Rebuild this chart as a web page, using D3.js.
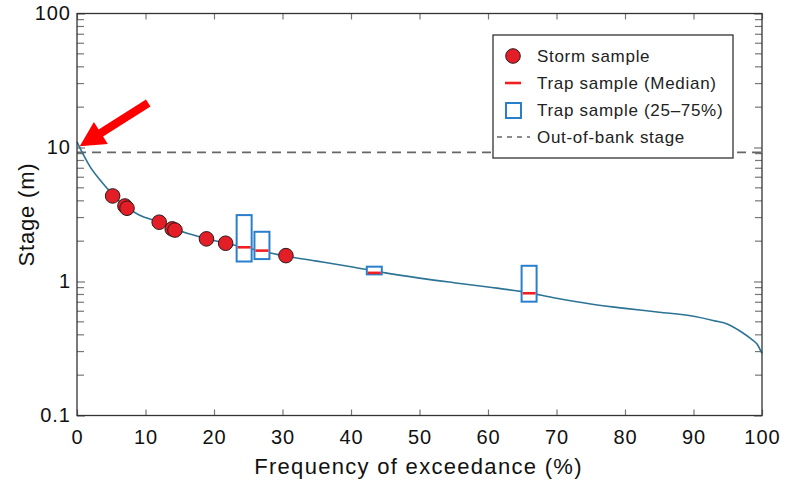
<!DOCTYPE html>
<html>
<head>
<meta charset="utf-8">
<script src="https://cdn.jsdelivr.net/npm/d3@7"></script>
<style>
  body { margin: 0; background: #fff; }
  text { font-family: "Liberation Sans", Arial, Helvetica, sans-serif; }
</style>
</head>
<body>
<script>
// flow duration curve (frequency of exceedance %, stage m)
var curvePct   = [0, 0.7, 1.9, 3.4, 4.8, 6, 7.2, 9, 12, 14, 17, 20, 24, 27, 31, 35, 40, 45, 50, 55, 60, 65, 70, 75, 80, 85, 90, 93, 95, 97, 98.5, 99.3, 100];
var curveStage = [11.0, 9.3, 7.2, 5.7, 4.7, 4.05, 3.6, 3.15, 2.78, 2.5, 2.22, 2.02, 1.82, 1.68, 1.53, 1.42, 1.29, 1.16, 1.06, 0.98, 0.91, 0.84, 0.75, 0.68, 0.63, 0.59, 0.55, 0.51, 0.48, 0.42, 0.37, 0.34, 0.29];

// storm samples
var stormPct   = [5.2, 7.0, 7.3, 12.0, 13.9, 14.3, 18.9, 21.7, 30.5];
var stormStage = [4.35, 3.66, 3.52, 2.77, 2.47, 2.42, 2.08, 1.93, 1.56];

// trap samples
var trapPct    = [24.4, 27.0, 43.4, 66.0];
var trapQ25    = [1.41, 1.47, 1.13, 0.707];
var trapMedian = [1.80, 1.70, 1.16, 0.817];
var trapQ75    = [3.13, 2.35, 1.29, 1.31];

var outOfBank = 9.2;

var xTicks = [0, 10, 20, 30, 40, 50, 60, 70, 80, 90, 100];
var yTicks = [0.1, 1, 10, 100];
var legendLabels = ["Storm sample", "Trap sample (Median)", "Trap sample (25\u201375%)", "Out-of-bank stage"];

var width = 792, height = 480;
var margin = {left: 77, top: 13.5, right: 30, bottom: 64.5};
var w = width - margin.left - margin.right;
var h = height - margin.top - margin.bottom;

var svg = d3.select("body").append("svg")
  .attr("width", width).attr("height", height);

var g = svg.append("g").attr("transform", "translate(" + margin.left + "," + margin.top + ")");

var x = d3.scaleLinear().domain([0, 100]).range([0, w]);
var y = d3.scaleLog().domain([0.1, 100]).range([h, 0]);

var tickColor = "#777";

// minor y ticks both sides
var minor = [];
[0.1, 1, 10].forEach(function(d) {
  for (var k = 2; k <= 9; k++) minor.push(d * k);
});
g.selectAll(".yminL").data(minor).enter().append("line")
  .attr("x1", 0).attr("x2", 7)
  .attr("y1", function(d) { return y(d); }).attr("y2", function(d) { return y(d); })
  .style("stroke", tickColor).style("stroke-width", 1.2);
g.selectAll(".yminR").data(minor).enter().append("line")
  .attr("x1", w).attr("x2", w - 7)
  .attr("y1", function(d) { return y(d); }).attr("y2", function(d) { return y(d); })
  .style("stroke", tickColor).style("stroke-width", 1.2);

// major y ticks
var yAxis = g.append("g")
  .call(d3.axisLeft(y).tickValues(yTicks).tickSize(-8).tickPadding(6).tickFormat(function(d) { return String(d); }));
var yAxisR = g.append("g").attr("transform", "translate(" + w + ",0)")
  .call(d3.axisRight(y).tickValues(yTicks).tickSize(-8).tickFormat(""));

// x ticks bottom / top
var xAxis = g.append("g").attr("transform", "translate(0," + h + ")")
  .call(d3.axisBottom(x).tickValues(xTicks).tickSize(-6).tickPadding(14));
var xAxisT = g.append("g")
  .call(d3.axisTop(x).tickValues(xTicks).tickSize(-6).tickFormat(""));

[yAxis, yAxisR, xAxis, xAxisT].forEach(function(a) {
  a.select(".domain").remove();
  a.selectAll(".tick line").style("stroke", tickColor).style("stroke-width", 1.2);
  a.selectAll(".tick text").style("font-size", "20px").style("fill", "#111")
    .style("letter-spacing", "1px")
    .style("font-family", "'Liberation Sans', Arial, sans-serif");
});

// out-of-bank dashed line
g.append("line")
  .attr("x1", 0).attr("x2", w)
  .attr("y1", y(outOfBank)).attr("y2", y(outOfBank))
  .style("stroke", "#666").style("stroke-width", 1.6)
  .style("stroke-dasharray", "9,6");

// curve
var curve = curvePct.map(function(d, i) { return [d, curveStage[i]]; });
var line = d3.line()
  .x(function(d) { return x(d[0]); })
  .y(function(d) { return y(d[1]); })
  .curve(d3.curveMonotoneX);
g.append("path").datum(curve)
  .attr("d", line)
  .style("fill", "none").style("stroke", "#2c7396").style("stroke-width", 1.6);

// storm samples
var storms = stormPct.map(function(d, i) { return {p: d, s: stormStage[i]}; });
g.selectAll(".storm").data(storms).enter().append("circle")
  .attr("cx", function(d) { return x(d.p); })
  .attr("cy", function(d) { return y(d.s); })
  .attr("r", 7.3)
  .style("fill", "#e41e26").style("stroke", "#2a1a1a").style("stroke-width", 1);

// trap boxes
var traps = trapPct.map(function(d, i) {
  return {p: d, q25: trapQ25[i], med: trapMedian[i], q75: trapQ75[i]};
});
var boxW = 15;
g.selectAll(".box").data(traps).enter().append("rect")
  .attr("x", function(d) { return x(d.p) - boxW / 2; })
  .attr("y", function(d) { return y(d.q75); })
  .attr("width", boxW)
  .attr("height", function(d) { return y(d.q25) - y(d.q75); })
  .style("fill", "#fff").style("stroke", "#2a7fcc").style("stroke-width", 2);
g.selectAll(".med").data(traps).enter().append("line")
  .attr("x1", function(d) { return x(d.p) - boxW / 2 + 1; })
  .attr("x2", function(d) { return x(d.p) + boxW / 2 - 1; })
  .attr("y1", function(d) { return y(d.med); })
  .attr("y2", function(d) { return y(d.med); })
  .style("stroke", "#f02020").style("stroke-width", 2.6);

// frame
g.append("rect").attr("width", w).attr("height", h)
  .style("fill", "none").style("stroke", "#333").style("stroke-width", 1.3);

// red arrow
var tip = [x(0.4), y(10.2)], tail = [x(10.4), y(21.5)];
var dx = tip[0] - tail[0], dy = tip[1] - tail[1];
var len = Math.sqrt(dx * dx + dy * dy);
var ux = dx / len, uy = dy / len, nx = -uy, ny = ux;
var headL = 25, headW = 13, shaftW = 4.2;
var bx = tip[0] - ux * headL, by = tip[1] - uy * headL;
var arrowPts = [
  [tail[0] + nx * shaftW, tail[1] + ny * shaftW],
  [bx + nx * shaftW, by + ny * shaftW],
  [bx + nx * headW, by + ny * headW],
  tip,
  [bx - nx * headW, by - ny * headW],
  [bx - nx * shaftW, by - ny * shaftW],
  [tail[0] - nx * shaftW, tail[1] - ny * shaftW]
];
g.append("polygon")
  .attr("points", arrowPts.map(function(p) { return p.join(","); }).join(" "))
  .style("fill", "#ff0000");

// legend
var lg = svg.append("g").attr("transform", "translate(493,35)");
lg.append("rect").attr("width", 240).attr("height", 123)
  .style("fill", "#fff").style("stroke", "#333").style("stroke-width", 1.3);
var rowY = [21, 48, 75, 102];
lg.append("circle").attr("cx", 20).attr("cy", rowY[0]).attr("r", 7.3)
  .style("fill", "#e41e26").style("stroke", "#2a1a1a").style("stroke-width", 1);
lg.append("line").attr("x1", 12).attr("x2", 28).attr("y1", rowY[1]).attr("y2", rowY[1])
  .style("stroke", "#f02020").style("stroke-width", 2.6);
lg.append("rect").attr("x", 13).attr("y", rowY[2] - 7).attr("width", 15).attr("height", 15)
  .style("fill", "#fff").style("stroke", "#2a7fcc").style("stroke-width", 2);
lg.append("line").attr("x1", 4).attr("x2", 37).attr("y1", rowY[3]).attr("y2", rowY[3])
  .style("stroke", "#666").style("stroke-width", 1.6).style("stroke-dasharray", "5,5");
lg.selectAll(".lt").data(legendLabels).enter().append("text")
  .attr("x", 44).attr("y", function(d, i) { return rowY[i]; })
  .attr("dy", "0.35em")
  .style("font-size", "17px").style("fill", "#222")
  .style("letter-spacing", "0.7px")
  .text(function(d) { return d; });

// axis titles
svg.append("text")
  .attr("x", margin.left + w / 2 - 1).attr("y", 474)
  .attr("text-anchor", "middle")
  .style("font-size", "22px").style("fill", "#111")
  .style("letter-spacing", "1.3px")
  .text("Frequency of exceedance (%)");
svg.append("text")
  .attr("transform", "translate(34," + (margin.top + h / 2) + ") rotate(-90)")
  .attr("text-anchor", "middle")
  .style("font-size", "22px").style("fill", "#111")
  .style("letter-spacing", "0.8px")
  .text("Stage (m)");
</script>
</body>
</html>
